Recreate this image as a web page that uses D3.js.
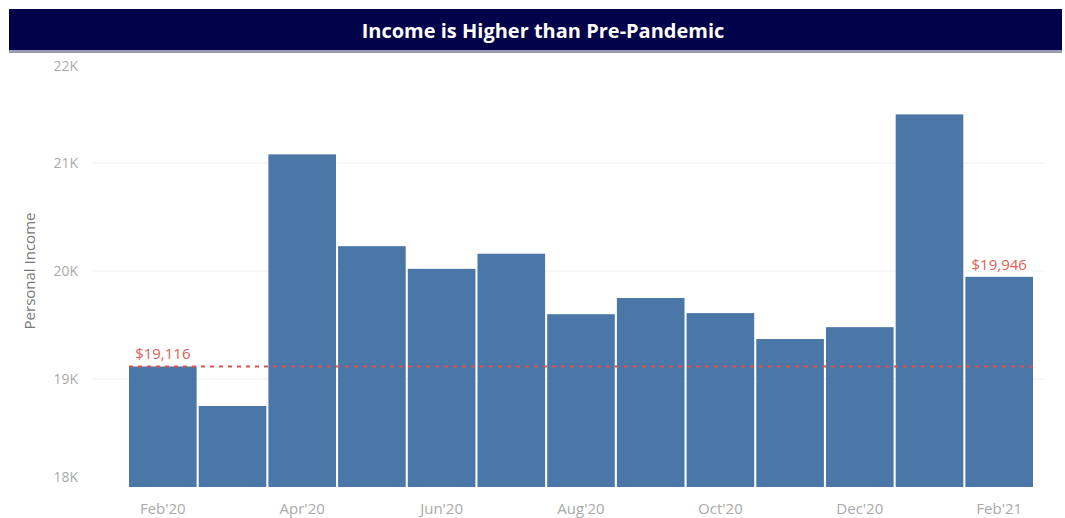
<!DOCTYPE html>
<html>
<head>
<meta charset="utf-8">
<script src="https://cdn.jsdelivr.net/npm/d3@7"></script>
<style>
    body { margin: 0; background: #fff; }
    svg text { font-family: "Open Sans", "Noto Sans", sans-serif; }
</style>
</head>
<body>
<div id="income-chart"></div>
<script>
// data
const months = ["Feb'20", "Mar'20", "Apr'20", "May'20", "Jun'20", "Jul'20", "Aug'20",
    "Sep'20", "Oct'20", "Nov'20", "Dec'20", "Jan'21", "Feb'21"];
const income = [19116, 18750, 21080, 20230, 20020, 20160, 19600, 19750, 19610, 19370, 19480, 21450, 19946];
const yTicks = [18000, 19000, 20000, 21000, 22000];
const xTickLabels = ["Feb'20", "Apr'20", "Jun'20", "Aug'20", "Oct'20", "Dec'20", "Feb'21"];
const baseline = 19116;
const titleText = "Income is Higher than Pre-Pandemic";

const W = 1065, H = 518;
const margin = { top: 55, bottom: 31, left: 129, right: 32 };

let svg = d3.select('#income-chart')
    .append('svg')
    .attr('width', W)
    .attr('height', H);

// title bar
svg.append('rect')
    .attr('x', 9).attr('y', 9)
    .attr('width', 1053).attr('height', 42)
    .attr('fill', '#02024a');
svg.append('rect')
    .attr('x', 9).attr('y', 50)
    .attr('width', 1053).attr('height', 3)
    .attr('fill', '#9a9ab4');
svg.append('text')
    .attr('x', 543).attr('y', 38)
    .attr('text-anchor', 'middle')
    .attr('fill', '#fff')
    .style('font-size', '20px')
    .style('font-weight', 'bold')
    .text(titleText);

let xScale = d3.scaleBand()
    .domain(months)
    .range([margin.left, W - margin.right])
    .paddingInner(0.03);

let yScale = d3.scaleLinear()
    .domain([18000, 22000])
    .range([H - margin.bottom, margin.top]);

// faint gridlines
svg.append('g')
    .selectAll('line')
    .data(yTicks.slice(1, 4))
    .join('line')
    .attr('x1', 92).attr('x2', 1045)
    .attr('y1', d => yScale(d)).attr('y2', d => yScale(d))
    .attr('stroke', '#f0f0f0');

// y tick labels (edge labels nudged inward like the original)
svg.append('g')
    .selectAll('text')
    .data(yTicks)
    .join('text')
    .attr('x', 78)
    .attr('y', d => yScale(d) + (d == 18000 ? -10 : d == 22000 ? 11 : 0))
    .attr('dy', '0.35em')
    .attr('text-anchor', 'end')
    .attr('fill', '#aaa')
    .style('font-size', '14px')
    .text(d => (d / 1000) + 'K');

// axis title
svg.append('text')
    .attr('transform', 'translate(35,271) rotate(-90)')
    .attr('text-anchor', 'middle')
    .attr('fill', '#777')
    .style('font-size', '15px')
    .text('Personal Income');

// bars
svg.append('g')
    .selectAll('rect')
    .data(income)
    .join('rect')
    .attr('x', (d, i) => xScale(months[i]))
    .attr('y', d => yScale(d))
    .attr('width', xScale.bandwidth())
    .attr('height', d => yScale(18000) - yScale(d))
    .attr('fill', '#4a76a8');

// x labels
svg.append('g')
    .selectAll('text')
    .data(xTickLabels)
    .join('text')
    .attr('x', d => xScale(d) + xScale.bandwidth() / 2)
    .attr('y', 514)
    .attr('text-anchor', 'middle')
    .attr('fill', '#aaa')
    .style('font-size', '15px')
    .text(d => d);

// pre-pandemic reference line
svg.append('line')
    .attr('x1', xScale(months[0]))
    .attr('x2', W - margin.right)
    .attr('y1', yScale(baseline)).attr('y2', yScale(baseline))
    .attr('stroke', '#d9534f')
    .attr('stroke-width', 2)
    .attr('stroke-dasharray', '4,5');

// value labels on first and last bar
let fmt = d3.format('$,');
[0, income.length - 1].forEach(i => {
    svg.append('text')
        .attr('x', xScale(months[i]) + xScale.bandwidth() / 2)
        .attr('y', yScale(income[i]) - 7)
        .attr('text-anchor', 'middle')
        .attr('fill', '#e06055')
        .style('font-size', '15px')
        .text(fmt(income[i]));
});
</script>
</body>
</html>
